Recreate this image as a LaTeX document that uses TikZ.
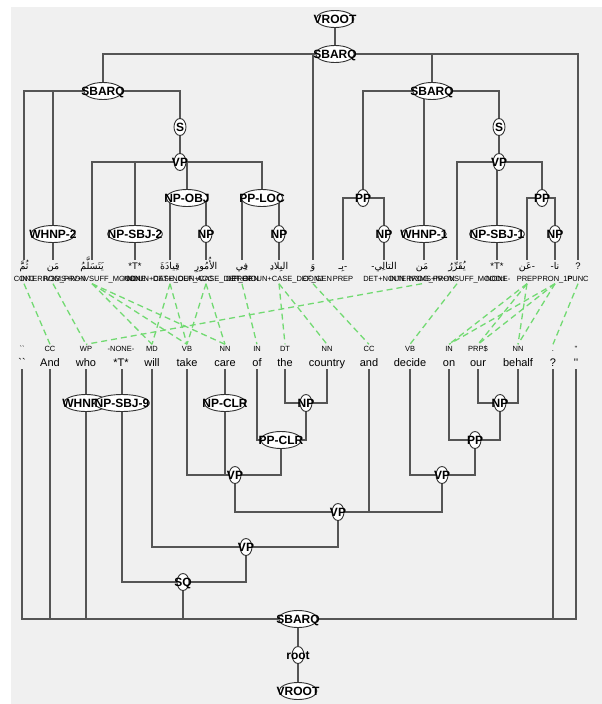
\documentclass[tikz,border=0pt]{standalone}
\usepackage{fontspec}
\setmainfont{Liberation Sans}
\newfontfamily\arabicfont[Script=Arabic]{DejaVu Sans}
\TeXXeTstate=1
\usetikzlibrary{shapes.geometric}
\pgfdeclarelayer{back}
\pgfdeclarelayer{bg}
\pgfsetlayers{back,bg,main}
\definecolor{bggray}{HTML}{F0F0F0}
\definecolor{treeln}{HTML}{555555}
\definecolor{algn}{HTML}{72DA72}
\newcommand\ar[1]{{\arabicfont\beginR #1\endR}}
\newcommand\tnfont{\bfseries\fontsize{12}{13}\selectfont}
\newdimen\tnwd
\newbox\tnbox
\newcommand\tnode[3]{%
  \setbox\tnbox=\hbox{\tnfont #3}\tnwd=\wd\tnbox
  \advance\tnwd by 12pt
  \edef\tnwv{\the\tnwd}%
  \node[tn,minimum width=\tnwv] (#1) at (#2) {#3};}
\begin{document}
\begin{tikzpicture}[x=1pt,y=-1pt,
 tn/.style={ellipse,draw=black!80,fill=white,line width=0.9pt,font=\tnfont,inner xsep=-8pt,inner ysep=0pt,minimum height=17pt,text height=8.5pt,text depth=0pt},
 ln/.style={draw=treeln,line width=1.4pt},
 al/.style={draw=algn,line width=1.3pt,dash pattern=on 6pt off 4pt},
 wd/.style={font=\fontsize{11}{12}\selectfont,inner sep=1pt,text height=8pt,text depth=2pt},
 aw/.style={font=\fontsize{9.5}{12}\selectfont,inner sep=1pt,text height=8pt,text depth=2pt},
 tg/.style={font=\fontsize{7.5}{8}\selectfont,inner sep=1pt,text height=6pt,text depth=1pt},
]
\useasboundingbox (0,0) rectangle (602,704);
\begin{pgfonlayer}{back}
\fill[white] (0,0) rectangle (602,704);
\fill[bggray] (11,7) rectangle (602,704);
\end{pgfonlayer}

% ---------- Arabic words ----------
\node[aw] (a1) at (24,266) {\ar{ثُمَّ}};
\node[aw] (a2) at (53,266) {\ar{مَن}};
\node[aw] (a3) at (92,266) {\ar{يَتَسَلَّمُ}};
\node[aw] (a4) at (135,266) {*T*};
\node[aw] (a5) at (170,266) {\ar{قِيادَةَ}};
\node[aw] (a6) at (206,266) {\ar{الأُمُورِ}};
\node[aw] (a7) at (242,266) {\ar{فِي}};
\node[aw] (a8) at (279,266) {\ar{البِلادِ}};
\node[aw] (a9) at (313,266) {\ar{وَ}};
\node[aw] (a10) at (343,266) {\ar{بِـ}-};
\node[aw] (a11) at (384,266) {-\ar{التالِي}};
\node[aw] (a12) at (422,266) {\ar{مَن}};
\node[aw] (a13) at (457,266) {\ar{يُقَرِّرُ}};
\node[aw] (a14) at (497,266) {*T*};
\node[aw] (a15) at (527,266) {\ar{عَن}-};
\node[aw] (a16) at (555,266) {-\ar{نا}};
\node[aw] (a17) at (578,266) {?};

% ---------- Arabic tags ----------
\foreach \i/\x/\t in {1/24/CONJ, 2/53/INTERROG\_PRON, 3/92/IV3MS+IV+IVSUFF\_MOOD:I, 4/135/-NONE-,
  5/170/NOUN+CASE\_DEF\_ACC, 6/206/DET+NOUN+CASE\_DEF\_GEN, 7/242/PREP, 8/279/DET+NOUN+CASE\_DEF\_GEN,
  9/313/CONJ, 10/343/PREP, 11/384/DET+NOUN, 12/422/INTERROG\_PRON, 13/457/IV3MS+IV+IVSUFF\_MOOD:I,
  14/497/-NONE-, 15/527/PREP, 16/555/PRON\_1P, 17/578/PUNC}
  \node[tg] (at\i) at (\x,279) {\t};

% ---------- English tags and words ----------
\foreach \i/\x/\t in {1/22/\textasciigrave\textasciigrave, 2/50/CC, 3/86/WP, 4/121/-NONE-, 5/152/MD, 6/187/VB,
  7/225/NN, 8/257/IN, 9/285/DT, 10/327/NN, 11/369/CC, 12/410/VB, 13/449/IN, 14/478/PRP\$, 15/518/NN,
  16/553/., 17/576/\textquotesingle\textquotesingle}
  \node[tg] (et\i) at (\x,349) {\t};
\foreach \i/\x/\t in {1/22/\textasciigrave\textasciigrave, 2/50/And, 3/86/who, 4/121/*T*, 5/152/will, 6/187/take,
  7/225/care, 8/257/of, 9/285/the, 10/327/country, 11/369/and, 12/410/decide, 13/449/on, 14/478/our,
  15/518/behalf, 16/553/?, 17/576/\textquotesingle\textquotesingle}
  \node[wd] (e\i) at (\x,363) {\t};

% ---------- top (Arabic) tree ----------
\tnode{vroot}{335,19}{VROOT}
\tnode{sbarq}{335,54}{SBARQ}
\tnode{sbarqL}{103,91}{SBARQ}
\tnode{sbarqR}{432,91}{SBARQ}
\tnode{sL}{180,127}{S}
\tnode{vpL}{180,162}{VP}
\tnode{whnp2}{53,234}{WHNP-2}
\tnode{npsbj2}{135,234}{NP-SBJ-2}
\tnode{npobj}{187,198}{NP-OBJ}
\tnode{np1}{206,234}{NP}
\tnode{pploc}{262,198}{PP-LOC}
\tnode{np2}{279,234}{NP}
\tnode{ppA}{363,198}{PP}
\tnode{whnp1}{424,234}{WHNP-1}
\tnode{np3}{384,234}{NP}
\tnode{sR}{499,127}{S}
\tnode{vpR}{499,162}{VP}
\tnode{npsbj1}{497,234}{NP-SBJ-1}
\tnode{ppB}{542,198}{PP}
\tnode{np4}{555,234}{NP}

% ---------- bottom (English) tree ----------
\tnode{whnp9}{86,403}{WHNP-9}
\tnode{npsbj9}{122,403}{NP-SBJ-9}
\tnode{npclr}{225,403}{NP-CLR}
\tnode{ppclr}{281,440}{PP-CLR}
\tnode{npE1}{306,403}{NP}
\tnode{vpE1}{235,475}{VP}
\tnode{vpE2}{338,512}{VP}
\tnode{vpE3}{246,547}{VP}
\tnode{sq}{183,582}{SQ}
\tnode{npE2}{500,403}{NP}
\tnode{ppE}{475,440}{PP}
\tnode{vpE4}{442,475}{VP}
\tnode{sbarqB}{298,619}{SBARQ}
\tnode{rootB}{298,655}{root}
\tnode{vrootB}{298,691}{VROOT}

\begin{pgfonlayer}{bg}
% alignment links
\foreach \a/\e in {1/2, 2/3, 12/3, 3/5, 3/6, 3/7, 5/5, 5/6, 6/6, 6/7, 7/8, 8/9, 8/10, 9/11, 13/12,
  15/13, 15/14, 15/15, 16/13, 16/14, 16/15, 17/16}
  \draw[al] (at\a.south) -- (et\e.north);
% top tree
\draw[ln] (vroot) -- (sbarq);
\draw[ln] (sbarq) -| (sbarqL);
\draw[ln] (sbarq) -| (sbarqR);
\draw[ln] (sbarq) -| (a17);
\draw[ln] (sbarq -| a9) -- (a9);
\draw[ln] (sbarqL) -| (a1);
\draw[ln] (sbarqL) -| (whnp2);
\draw[ln] (sbarqL) -| (sL);
\draw[ln] (whnp2) -- (a2);
\draw[ln] (sL) -- (vpL);
\draw[ln] (vpL) -| (a3);
\draw[ln] (vpL) -| (npsbj2);
\draw[ln] (vpL) -| (npobj);
\draw[ln] (vpL) -| (pploc);
\draw[ln] (npsbj2) -- (a4);
\draw[ln] (npobj) -| (a5);
\draw[ln] (npobj) -| (np1);
\draw[ln] (np1) -- (a6);
\draw[ln] (pploc) -| (a7);
\draw[ln] (pploc) -| (np2);
\draw[ln] (np2) -- (a8);
\draw[ln] (sbarqR) -| (ppA);
\draw[ln] (sbarqR) -| (whnp1);
\draw[ln] (sbarqR) -| (sR);
\draw[ln] (ppA) -| (a10);
\draw[ln] (ppA) -| (np3);
\draw[ln] (np3) -- (a11);
\draw[ln] (whnp1 |- sbarqR) -- (whnp1 |- a12.north);
\draw[ln] (sR) -- (vpR);
\draw[ln] (vpR) -| (a13);
\draw[ln] (vpR) -| (npsbj1);
\draw[ln] (vpR) -| (ppB);
\draw[ln] (npsbj1) -- (a14);
\draw[ln] (ppB) -| (a15);
\draw[ln] (ppB) -| (np4);
\draw[ln] (np4) -- (a16);
% bottom tree
\draw[ln] (sbarqB) -- (rootB);
\draw[ln] (rootB) -- (vrootB);
\draw[ln] (sbarqB) -| (e1);
\draw[ln] (sbarqB) -| (e2);
\draw[ln] (sbarqB) -| (whnp9);
\draw[ln] (sbarqB) -| (sq);
\draw[ln] (sbarqB) -| (e16);
\draw[ln] (sbarqB) -| (e17);
\draw[ln] (whnp9) -- (e3);
\draw[ln] (npsbj9 |- e4.south) -- (npsbj9);
\draw[ln] (sq) -| (npsbj9);
\draw[ln] (sq) -| (vpE3);
\draw[ln] (vpE3) -| (e5);
\draw[ln] (vpE3) -| (vpE2);
\draw[ln] (vpE2) -| (vpE1);
\draw[ln] (vpE2) -| (e11);
\draw[ln] (vpE2) -| (vpE4);
\draw[ln] (vpE1) -| (e6);
\draw[ln] (vpE1) -| (npclr);
\draw[ln] (vpE1) -| (ppclr);
\draw[ln] (npclr) -- (e7);
\draw[ln] (ppclr) -| (e8);
\draw[ln] (ppclr) -| (npE1);
\draw[ln] (npE1) -| (e9);
\draw[ln] (npE1) -| (e10);
\draw[ln] (vpE4) -| (e12);
\draw[ln] (vpE4) -| (ppE);
\draw[ln] (ppE) -| (e13);
\draw[ln] (ppE) -| (npE2);
\draw[ln] (npE2) -| (e14);
\draw[ln] (npE2) -| (e15);
\end{pgfonlayer}
\end{tikzpicture}
\end{document}
